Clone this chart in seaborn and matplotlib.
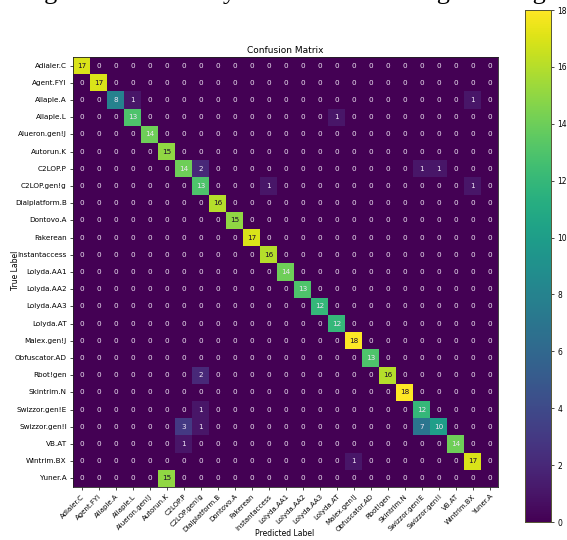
import numpy as np
import pandas as pd
import matplotlib
matplotlib.use('Agg')
import matplotlib.pyplot as plt
import seaborn as sns

# Class names (malware families)
classes = ['Adialer.C', 'Agent.FYI', 'Allaple.A', 'Allaple.L', 'Alueron.gen!J',
           'Autorun.K', 'C2LOP.P', 'C2LOP.gen!g', 'Dialplatform.B', 'Dontovo.A',
           'Fakerean', 'Instantaccess', 'Lolyda.AA1', 'Lolyda.AA2', 'Lolyda.AA3',
           'Lolyda.AT', 'Malex.gen!J', 'Obfuscator.AD', 'Rbot!gen', 'Skintrim.N',
           'Swizzor.gen!E', 'Swizzor.gen!I', 'VB.AT', 'Wintrim.BX', 'Yuner.A']

# non-zero cells: (true label, predicted label, count)
true_idx = [0, 1, 2, 2, 2, 3, 3, 4, 5, 6, 6, 6, 6, 7, 7, 7, 8, 9, 10, 11, 12, 13,
            14, 15, 16, 17, 18, 18, 19, 20, 20, 21, 21, 21, 21, 22, 22, 23, 23, 24]
pred_idx = [0, 1, 2, 3, 23, 3, 15, 4, 5, 6, 7, 20, 21, 7, 11, 23, 8, 9, 10, 11, 12, 13,
            14, 15, 16, 17, 7, 18, 19, 7, 20, 6, 7, 20, 21, 6, 22, 16, 23, 5]
counts = [17, 17, 8, 1, 1, 13, 1, 14, 15, 14, 2, 1, 1, 13, 1, 1, 16, 15, 17, 16, 14, 13,
          12, 12, 18, 13, 2, 16, 18, 1, 12, 3, 1, 7, 10, 1, 14, 1, 17, 15]

cm = np.zeros((len(classes), len(classes)), dtype=int)
for t, p, c in zip(true_idx, pred_idx, counts):
    cm[t, p] = c
cm_df = pd.DataFrame(cm, index=classes, columns=classes)

fig = plt.figure(figsize=(5.67, 5.40), dpi=100)
ax = fig.add_axes([73 / 567, 1 - 487 / 540, 425 / 567, 430 / 540])
cax = fig.add_axes([525 / 567, 1 - 522 / 540, 26 / 567, 512 / 540])

sns.heatmap(cm_df, ax=ax, cbar_ax=cax, cmap='viridis', vmin=0, vmax=18,
            annot=True, fmt='d', annot_kws={'fontsize': 5.2},
            cbar_kws={'ticks': range(0, 19, 2)})

# text colour: dark on bright cells, light elsewhere
for txt in ax.texts:
    v = int(txt.get_text())
    txt.set_color('#1a0a2a' if v >= 15 else '#f0e6f5')

for s in ax.spines.values():
    s.set_visible(True)
    s.set_linewidth(0.6)
    s.set_color('#222222')

ax.set_title('Confusion Matrix', fontsize=6.5, pad=3)
ax.set_xlabel('')
ax.set_ylabel('')
ax.set_xticklabels(classes, rotation=45, ha='right', rotation_mode='anchor', fontsize=5)
ax.set_yticklabels(classes, rotation=0, fontsize=5.2)
ax.tick_params(length=2.5, width=0.5, pad=2)
fig.text(285 / 567, 1 - 533 / 540, 'Predicted Label', ha='center', va='center', fontsize=5.5)
fig.text(16 / 567, 1 - 270 / 540, 'True Label', ha='center', va='center', rotation=90, fontsize=5.5)

cax.tick_params(labelsize=5.5, length=2.5, width=0.5, pad=2)
for s in cax.spines.values():
    s.set_visible(True)
    s.set_linewidth(0.6)
    s.set_color('#555533')

# clipped caption from the page above the figure
fig.text(0.5, 1 + 1 / 540, 'Figure 9: Results by CNN Model during Training', ha='center', va='baseline',
         fontsize=19, family='Liberation Serif')

fig.savefig('out.png', dpi=100)
